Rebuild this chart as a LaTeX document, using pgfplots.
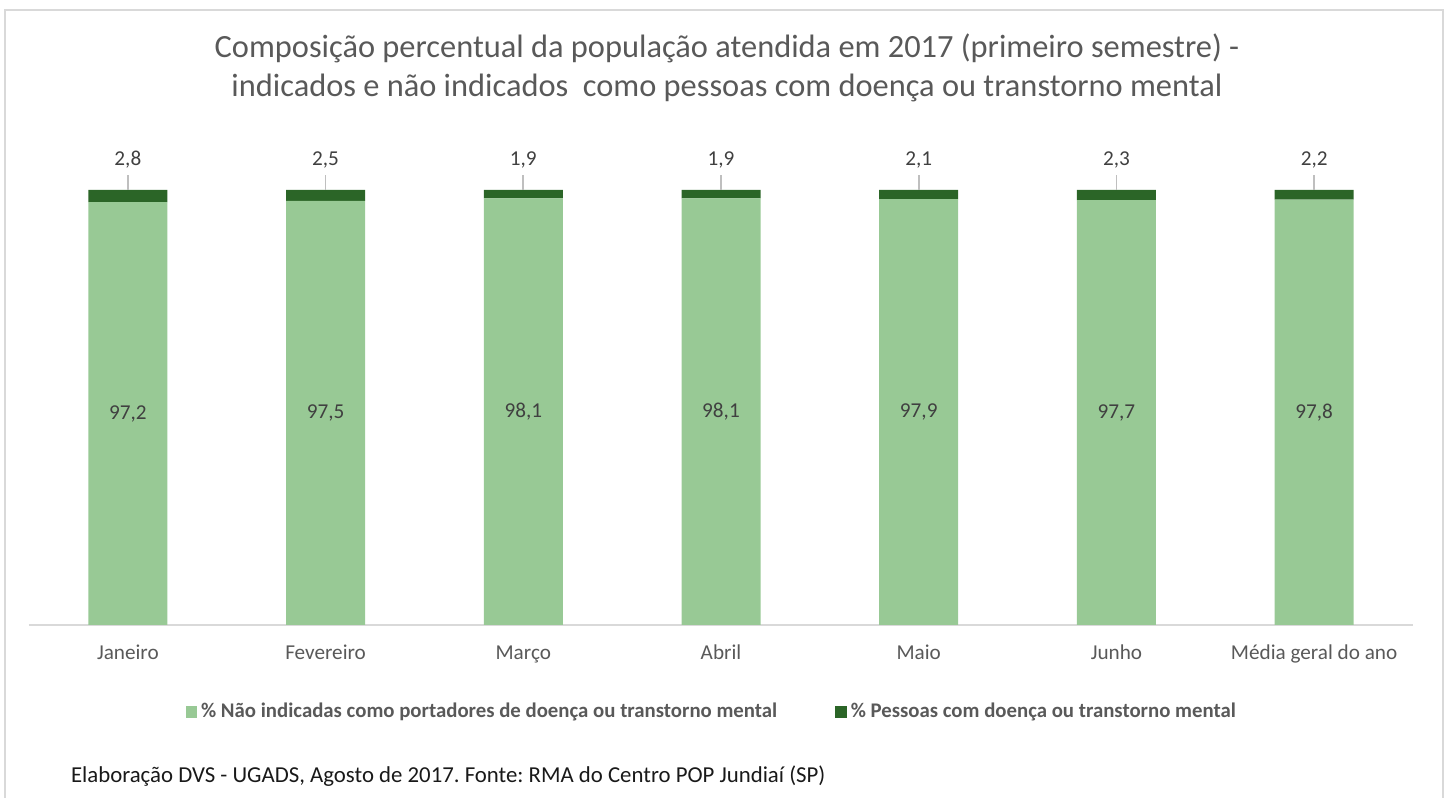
\documentclass[border=0pt]{standalone}
\usepackage{pgfplots}
\pgfplotsset{compat=1.18}
\usepackage{pgfplotstable}
\usepackage{fontspec}
\setmainfont{Carlito}
\frenchspacing
\definecolor{lightg}{HTML}{98C995}
\definecolor{darkg}{HTML}{2B6527}
\definecolor{txt}{HTML}{595959}
\definecolor{lbl}{HTML}{404040}
\definecolor{framec}{HTML}{D9D9D9}
\definecolor{leader}{HTML}{BFBFBF}

\pgfplotstableread{
x a b
0 97.2 2.8
1 97.5 2.5
2 98.1 1.9
3 98.1 1.9
4 97.9 2.1
5 97.7 2.3
6 97.8 2.2
}\data

\begin{document}
\begin{tikzpicture}
\useasboundingbox (0,0) rectangle (724pt,399pt);
\draw[framec, line width=1.2pt] (2.5pt,-5pt) -- (2.5pt,394pt) -- (721.5pt,394pt) -- (721.5pt,-5pt);

\node[txt, font=\fontsize{16.2}{19}\selectfont] at (363.5pt,375pt) {Composição percentual da população atendida em 2017 (primeiro semestre) -};
\node[txt, font=\fontsize{16.2}{19}\selectfont] at (363.5pt,355pt) {indicados e não indicados\ \ como pessoas com doença ou transtorno mental};

\begin{axis}[
  at={(14.5pt,86.5pt)}, anchor=south west,
  scale only axis, width=692pt, height=217.5pt,
  xmin=-0.5, xmax=6.5, ymin=0, ymax=100,
  ybar stacked, bar width=39.5pt,
  axis x line*=bottom, axis y line=none,
  x axis line style={draw=framec, line width=0.8pt, -},
  xtick={0,1,2,3,4,5,6},
  xticklabels={Janeiro,Fevereiro,Março,Abril,Maio,Junho,Média geral do ano},
  major tick length=0pt,
  xticklabel style={txt, font=\fontsize{10.6}{12}\selectfont, yshift=-6pt, text height=7.6pt, text depth=2.4pt},
  ytick=\empty,
  legend style={at={(0.494,-0.2)}, anchor=center, draw=none, fill=none,
    legend columns=2, font=\bfseries\fontsize{10.4}{12}\selectfont, text=txt,
    /tikz/every even column/.append style={column sep=27pt}},
  legend image code/.code={\fill (0pt,-2.9pt) rectangle (5.8pt,2.9pt);},
]
\addplot[fill=lightg, draw=none] table[x=x,y=a]{\data};
\addlegendentry{\% Não indicadas como portadores de doença ou transtorno mental}
\addplot[fill=darkg, draw=none] table[x=x,y=b]{\data};
\addlegendentry{\% Pessoas com doença ou transtorno mental}
\end{axis}

\begin{axis}[
  at={(14.5pt,86.5pt)}, anchor=south west,
  scale only axis, width=692pt, height=217.5pt,
  xmin=-0.5, xmax=6.5, ymin=0, ymax=100,
  hide axis, clip=false,
  /pgf/number format/.cd, use comma, fixed, fixed zerofill, precision=1, assume math mode=true,
]
\addplot[draw=none, mark=none, nodes near coords, point meta=explicit,
  nodes near coords style={anchor=center, text=lbl, font=\fontsize{10.6}{12}\selectfont}]
  table[x=x, y expr=\thisrow{a}/2, meta=a]{\data};
\addplot[draw=none, mark=none, forget plot,
  error bars/.cd, y dir=plus, y explicit, error mark=none,
  error bar style={draw=leader, solid, line width=0.8pt}]
  table[x=x, y expr=100, y error expr=3.4]{\data};
\addplot[draw=none, mark=none, nodes near coords, point meta=explicit,
  nodes near coords style={anchor=center, text=lbl, font=\fontsize{10.6}{12}\selectfont}]
  table[x=x, y expr=106.9, meta=b]{\data};
\end{axis}

\node[anchor=west, text=black!90, font=\fontsize{11.4}{13}\selectfont] at (32pt,11pt) {Elaboração DVS - UGADS, Agosto de 2017. Fonte: RMA do Centro POP Jundiaí (SP)};
\end{tikzpicture}
\end{document}
